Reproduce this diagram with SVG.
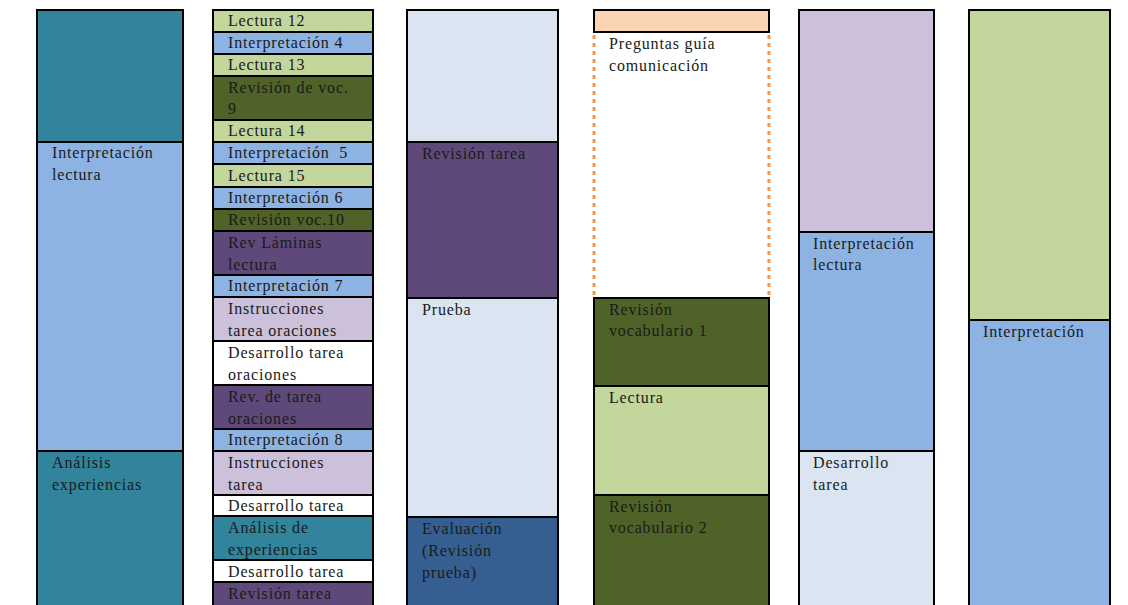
<svg xmlns="http://www.w3.org/2000/svg" width="1128" height="605" viewBox="0 0 1128 605">
  <style>
    .cell { stroke: #000; stroke-width: 2; }
    .lg { fill: #c3d69b; }
    .bl { fill: #8db3e2; }
    .dg { fill: #4f6228; }
    .pu { fill: #5f497a; }
    .lv { fill: #ccc0da; }
    .wh { fill: #ffffff; }
    .tl { fill: #31849b; }
    .pb { fill: #dbe5f1; }
    .db { fill: #365f91; }
    .pe { fill: #fbd4b4; }
    .dash { stroke: #f79646; stroke-width: 3; stroke-dasharray: 4 4; fill: none; }
    text { font-family: "Liberation Serif", "Times New Roman", serif; font-size: 16px; letter-spacing: 0.85px; fill: #1a1a1a; }
  </style>
  <rect width="1128" height="605" fill="#ffffff"/>

  <!-- Column 1 -->
  <g id="c1-top"><rect class="cell tl" x="37" y="10" width="146" height="132"/></g>
  <g id="c1-interpretacion"><rect class="cell bl" x="37" y="142" width="146" height="309"/>
    <text x="52" y="158">Interpretación</text><text x="52" y="180">lectura</text></g>
  <g id="c1-analisis"><rect class="cell tl" x="37" y="451" width="146" height="160"/>
    <text x="52" y="468">Análisis</text><text x="52" y="490">experiencias</text></g>

  <!-- Column 2 -->
  <g id="c2-lectura12"><rect class="cell lg" x="213" y="10" width="160" height="22"/><text x="228" y="26">Lectura 12</text></g>
  <g id="c2-interp4"><rect class="cell bl" x="213" y="32" width="160" height="22"/><text x="228" y="48">Interpretación 4</text></g>
  <g id="c2-lectura13"><rect class="cell lg" x="213" y="54" width="160" height="22"/><text x="228" y="70">Lectura 13</text></g>
  <g id="c2-revvoc9"><rect class="cell dg" x="213" y="76" width="160" height="44"/><text x="228" y="93">Revisión de voc.</text><text x="228" y="114">9</text></g>
  <g id="c2-lectura14"><rect class="cell lg" x="213" y="120" width="160" height="22"/><text x="228" y="136">Lectura 14</text></g>
  <g id="c2-interp5"><rect class="cell bl" x="213" y="142" width="160" height="22"/><text x="228" y="158" style="white-space:pre">Interpretación  5</text></g>
  <g id="c2-lectura15"><rect class="cell lg" x="213" y="164" width="160" height="23"/><text x="228" y="181">Lectura 15</text></g>
  <g id="c2-interp6"><rect class="cell bl" x="213" y="187" width="160" height="22"/><text x="228" y="203">Interpretación 6</text></g>
  <g id="c2-revvoc10"><rect class="cell dg" x="213" y="209" width="160" height="22"/><text x="228" y="225">Revisión voc.10</text></g>
  <g id="c2-revlaminas"><rect class="cell pu" x="213" y="231" width="160" height="44"/><text x="228" y="248">Rev Láminas</text><text x="228" y="270">lectura</text></g>
  <g id="c2-interp7"><rect class="cell bl" x="213" y="275" width="160" height="22"/><text x="228" y="291">Interpretación 7</text></g>
  <g id="c2-instr-oraciones"><rect class="cell lv" x="213" y="297" width="160" height="44"/><text x="228" y="314">Instrucciones</text><text x="228" y="336">tarea oraciones</text></g>
  <g id="c2-des-oraciones"><rect class="cell wh" x="213" y="341" width="160" height="44"/><text x="228" y="358">Desarrollo tarea</text><text x="228" y="380">oraciones</text></g>
  <g id="c2-rev-oraciones"><rect class="cell pu" x="213" y="385" width="160" height="44"/><text x="228" y="402">Rev. de tarea</text><text x="228" y="424">oraciones</text></g>
  <g id="c2-interp8"><rect class="cell bl" x="213" y="429" width="160" height="22"/><text x="228" y="445">Interpretación 8</text></g>
  <g id="c2-instr-tarea"><rect class="cell lv" x="213" y="451" width="160" height="44"/><text x="228" y="468">Instrucciones</text><text x="228" y="490">tarea</text></g>
  <g id="c2-des-tarea1"><rect class="cell wh" x="213" y="495" width="160" height="21"/><text x="228" y="511">Desarrollo tarea</text></g>
  <g id="c2-analisis"><rect class="cell tl" x="213" y="516" width="160" height="44"/><text x="228" y="533">Análisis de</text><text x="228" y="555">experiencias</text></g>
  <g id="c2-des-tarea2"><rect class="cell wh" x="213" y="560" width="160" height="22"/><text x="228" y="577">Desarrollo tarea</text></g>
  <g id="c2-rev-tarea"><rect class="cell pu" x="213" y="582" width="160" height="30"/><text x="228" y="599">Revisión tarea</text></g>

  <!-- Column 3 -->
  <g id="c3-top"><rect class="cell pb" x="407" y="10" width="151" height="132"/></g>
  <g id="c3-revision"><rect class="cell pu" x="407" y="142" width="151" height="156"/><text x="422" y="159">Revisión tarea</text></g>
  <g id="c3-prueba"><rect class="cell pb" x="407" y="298" width="151" height="219"/><text x="422" y="315">Prueba</text></g>
  <g id="c3-evaluacion"><rect class="cell db" x="407" y="517" width="151" height="95"/>
    <text x="422" y="534">Evaluación</text><text x="422" y="556">(Revisión</text><text x="422" y="578">prueba)</text></g>

  <!-- Column 4 -->
  <g id="c4-top"><rect class="cell pe" x="594" y="10" width="175" height="22"/></g>
  <g id="c4-preguntas">
    <line class="dash" x1="594" y1="35" x2="594" y2="297"/>
    <line class="dash" x1="769" y1="35" x2="769" y2="297"/>
    <text x="609" y="49">Preguntas guía</text><text x="609" y="71">comunicación</text></g>
  <g id="c4-revvoc1"><rect class="cell dg" x="594" y="298" width="175" height="88"/><text x="609" y="315">Revisión</text><text x="609" y="336">vocabulario 1</text></g>
  <g id="c4-lectura"><rect class="cell lg" x="594" y="386" width="175" height="109"/><text x="609" y="403">Lectura</text></g>
  <g id="c4-revvoc2"><rect class="cell dg" x="594" y="495" width="175" height="117"/><text x="609" y="512">Revisión</text><text x="609" y="533">vocabulario 2</text></g>

  <!-- Column 5 -->
  <g id="c5-top"><rect class="cell lv" x="799" y="10" width="135" height="222"/></g>
  <g id="c5-interpretacion"><rect class="cell bl" x="799" y="232" width="135" height="219"/><text x="813" y="249">Interpretación</text><text x="813" y="270">lectura</text></g>
  <g id="c5-desarrollo"><rect class="cell pb" x="799" y="451" width="135" height="161"/><text x="813" y="468">Desarrollo</text><text x="813" y="490">tarea</text></g>

  <!-- Column 6 -->
  <g id="c6-top"><rect class="cell lg" x="969" y="10" width="141" height="310"/></g>
  <g id="c6-interpretacion"><rect class="cell bl" x="969" y="320" width="141" height="292"/><text x="983" y="337">Interpretación</text></g>
</svg>
